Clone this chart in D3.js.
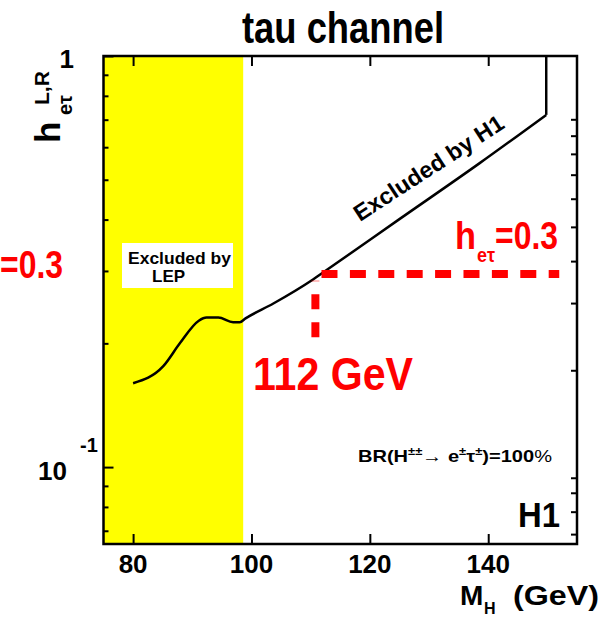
<!DOCTYPE html>
<html><head><meta charset="utf-8">
<script src="https://cdn.jsdelivr.net/npm/d3@7"></script>
<style>
html,body{margin:0;padding:0;background:#fff;}
text{font-family:"Liberation Sans",Arial,Helvetica,sans-serif;font-weight:bold;}
</style></head>
<body>
<svg id="chart" width="612" height="617"></svg>
<script>
// ---- data ----
const limitMass = [80, 85.1, 87.9, 91.1, 92.4, 94.4, 96.9, 98.0, 99.0, 103.7, 110.4, 112.7, 125.0, 138.5, 149.8];
const limitH    = [0.160, 0.176, 0.200, 0.227, 0.231, 0.231, 0.225, 0.225, 0.230, 0.250, 0.286, 0.3015, 0.401, 0.548, 0.719];
const limitEnd  = [149.8, 1.0];        // vertical closing of the H1 exclusion
const lepLimit  = 98.6;                // LEP exclusion up to this mass
const refCoupling = 0.295;             // h_et = 0.3 line
const hLineStart  = 111.83;
const hLineEnd    = 152.0;
const refMass     = 110.8;             // 112 GeV marker
const vLineLow    = 0.207;
const vLineHigh   = 0.284;
const xTicks = [80, 100, 120, 140];
const yMajor = [0.1, 1];
const yMinor = [0.07, 0.08, 0.09, 0.2, 0.3, 0.4, 0.5, 0.6, 0.7, 0.8, 0.9];
const yRightTicks = [0.0687, 0.0779, 0.0866, 0.0942, 0.172, 0.2506, 0.317, 0.384, 0.4496, 0.5144, 0.578, 0.640, 0.7015];
const xDomain = [75, 155];
const yDomain = [0.065, 1];

// ---- layout ----
const svg = d3.select("#chart");
const L = 103.5, R = 577, T = 56, B = 544;
const x = d3.scaleLinear().domain(xDomain).range([L, R]);
const y = d3.scaleLog().domain(yDomain).range([B, T]);

// LEP band
svg.append("rect").attr("x", x(xDomain[0])).attr("y", T)
  .attr("width", x(lepLimit) - x(xDomain[0])).attr("height", B - T)
  .attr("fill", "#ffff00");

// LEP label box
svg.append("rect").attr("x", 122).attr("y", 243).attr("width", 111).attr("height", 45).attr("fill", "#fff");
svg.append("text").attr("x", 128).attr("y", 264).attr("font-size", 17).attr("textLength", 103)
  .attr("lengthAdjust", "spacingAndGlyphs").text("Excluded by");
svg.append("text").attr("x", 152).attr("y", 282).attr("font-size", 17).text("LEP");

// axes (ticks inside)
const gB = svg.append("g").attr("transform", `translate(0,${B})`)
  .call(d3.axisTop(x).tickValues(xTicks).tickSize(10).tickFormat(""));
const gT = svg.append("g").attr("transform", `translate(0,${T})`)
  .call(d3.axisBottom(x).tickValues(xTicks).tickSize(10).tickFormat(""));
const gL1 = svg.append("g").attr("transform", `translate(${L},0)`)
  .call(d3.axisRight(y).tickValues(yMajor).tickSize(10).tickFormat(""));
const gL2 = svg.append("g").attr("transform", `translate(${L},0)`)
  .call(d3.axisRight(y).tickValues(yMinor).tickSize(5).tickFormat(""));
const gR = svg.append("g").attr("transform", `translate(${R},0)`)
  .call(d3.axisLeft(y).tickValues(yRightTicks).tickSize(6).tickFormat(""));
[gB, gT, gL1, gL2, gR].forEach(g => {
  g.select(".domain").remove();
  g.selectAll(".tick line").attr("stroke", "#000").attr("stroke-width", 2);
});

// frame
svg.append("rect").attr("x", L).attr("y", T).attr("width", R - L).attr("height", B - T)
  .attr("fill", "none").attr("stroke", "#000").attr("stroke-width", 2.5);

// x tick labels
svg.selectAll(".xl").data(xTicks).enter().append("text")
  .attr("x", d => x(d)).attr("y", 573).attr("text-anchor", "middle").attr("font-size", 26)
  .text(d => d);

// y tick labels
svg.append("text").attr("x", 74).attr("y", 68).attr("text-anchor", "end").attr("font-size", 26).text("1");
svg.append("text").attr("x", 67).attr("y", 480).attr("text-anchor", "end").attr("font-size", 26).text("10");
svg.append("text").attr("x", 80).attr("y", 452).attr("font-size", 20).text("-1");

// H1 limit curve
const pts = limitMass.map((m, i) => [x(m), y(limitH[i])]);
svg.append("path").attr("d", d3.line().curve(d3.curveMonotoneX)(pts))
  .attr("fill", "none").attr("stroke", "#000").attr("stroke-width", 2.5);
svg.append("path").attr("d", d3.line()([pts[pts.length - 1], [x(limitEnd[0]), y(limitEnd[1])]]))
  .attr("fill", "none").attr("stroke", "#000").attr("stroke-width", 2.5);

// red dashed reference lines
svg.append("line").attr("x1", x(hLineStart)).attr("x2", x(hLineEnd))
  .attr("y1", y(refCoupling)).attr("y2", y(refCoupling))
  .attr("stroke", "#ff0000").attr("stroke-width", 8).attr("stroke-dasharray", "16,12.4");
svg.append("line").attr("x1", x(refMass)).attr("x2", x(refMass))
  .attr("y1", y(vLineLow)).attr("y2", y(vLineHigh))
  .attr("stroke", "#ff0000").attr("stroke-width", 8).attr("stroke-dasharray", "15,13");

// "Excluded by H1"
svg.append("text").attr("transform", "translate(360,222) rotate(-33)")
  .attr("font-size", 23).attr("textLength", 174).attr("lengthAdjust", "spacingAndGlyphs")
  .text("Excluded by H1");

// h_et = 0.3 labels
const hl = svg.append("g").attr("fill", "#ff0000");
hl.append("text").attr("x", 455).attr("y", 249).attr("font-size", 38)
  .attr("textLength", 21).attr("lengthAdjust", "spacingAndGlyphs").text("h");
hl.append("text").attr("x", 477).attr("y", 262).attr("font-size", 21)
  .attr("textLength", 18).attr("lengthAdjust", "spacingAndGlyphs").text("eτ");
hl.append("text").attr("x", 495).attr("y", 249).attr("font-size", 38)
  .attr("textLength", 63).attr("lengthAdjust", "spacingAndGlyphs").text("=0.3");
// same label, mostly outside the page on the left
hl.append("text").attr("x", 0).attr("y", 278).attr("font-size", 38)
  .attr("textLength", 63).attr("lengthAdjust", "spacingAndGlyphs").text("=0.3");

// 112 GeV
svg.append("text").attr("x", 253).attr("y", 390).attr("font-size", 47).attr("fill", "#ff0000")
  .attr("textLength", 160).attr("lengthAdjust", "spacingAndGlyphs").text("112 GeV");

// BR label
const br = svg.append("text").attr("x", 358).attr("y", 462).attr("font-size", 17)
  .attr("textLength", 194).attr("lengthAdjust", "spacingAndGlyphs");
br.append("tspan").text("BR(H");
br.append("tspan").attr("dy", -7).attr("font-size", 11).text("±±");
br.append("tspan").attr("dy", 7).attr("font-weight", "normal").text("→ ");
br.append("tspan").text("e");
br.append("tspan").attr("dy", -7).attr("font-size", 11).text("±");
br.append("tspan").attr("dy", 7).text("τ");
br.append("tspan").attr("dy", -7).attr("font-size", 11).text("±");
br.append("tspan").attr("dy", 7).text(")=100");
br.append("tspan").attr("font-weight", "normal").text("%");

// H1
svg.append("text").attr("x", 518).attr("y", 527).attr("font-size", 35)
  .attr("textLength", 42).attr("lengthAdjust", "spacingAndGlyphs").text("H1");

// title
svg.append("text").attr("x", 242).attr("y", 43).attr("font-size", 44)
  .attr("textLength", 202).attr("lengthAdjust", "spacingAndGlyphs").text("tau channel");

// y axis title
const yt = svg.append("g").attr("transform", "translate(60,143) rotate(-90)");
yt.append("text").attr("x", 0).attr("y", 0).attr("font-size", 35).text("h");
yt.append("text").attr("x", 28).attr("y", 12).attr("font-size", 20).text("eτ");
yt.append("text").attr("x", 38).attr("y", -11).attr("font-size", 21).text("L,R");

// x axis title
svg.append("text").attr("x", 460).attr("y", 605).attr("font-size", 28).text("M");
svg.append("text").attr("x", 484).attr("y", 614).attr("font-size", 16).text("H");
svg.append("text").attr("x", 513).attr("y", 605).attr("font-size", 28)
  .attr("textLength", 86).attr("lengthAdjust", "spacingAndGlyphs").text("(GeV)");
</script>
</body></html>
